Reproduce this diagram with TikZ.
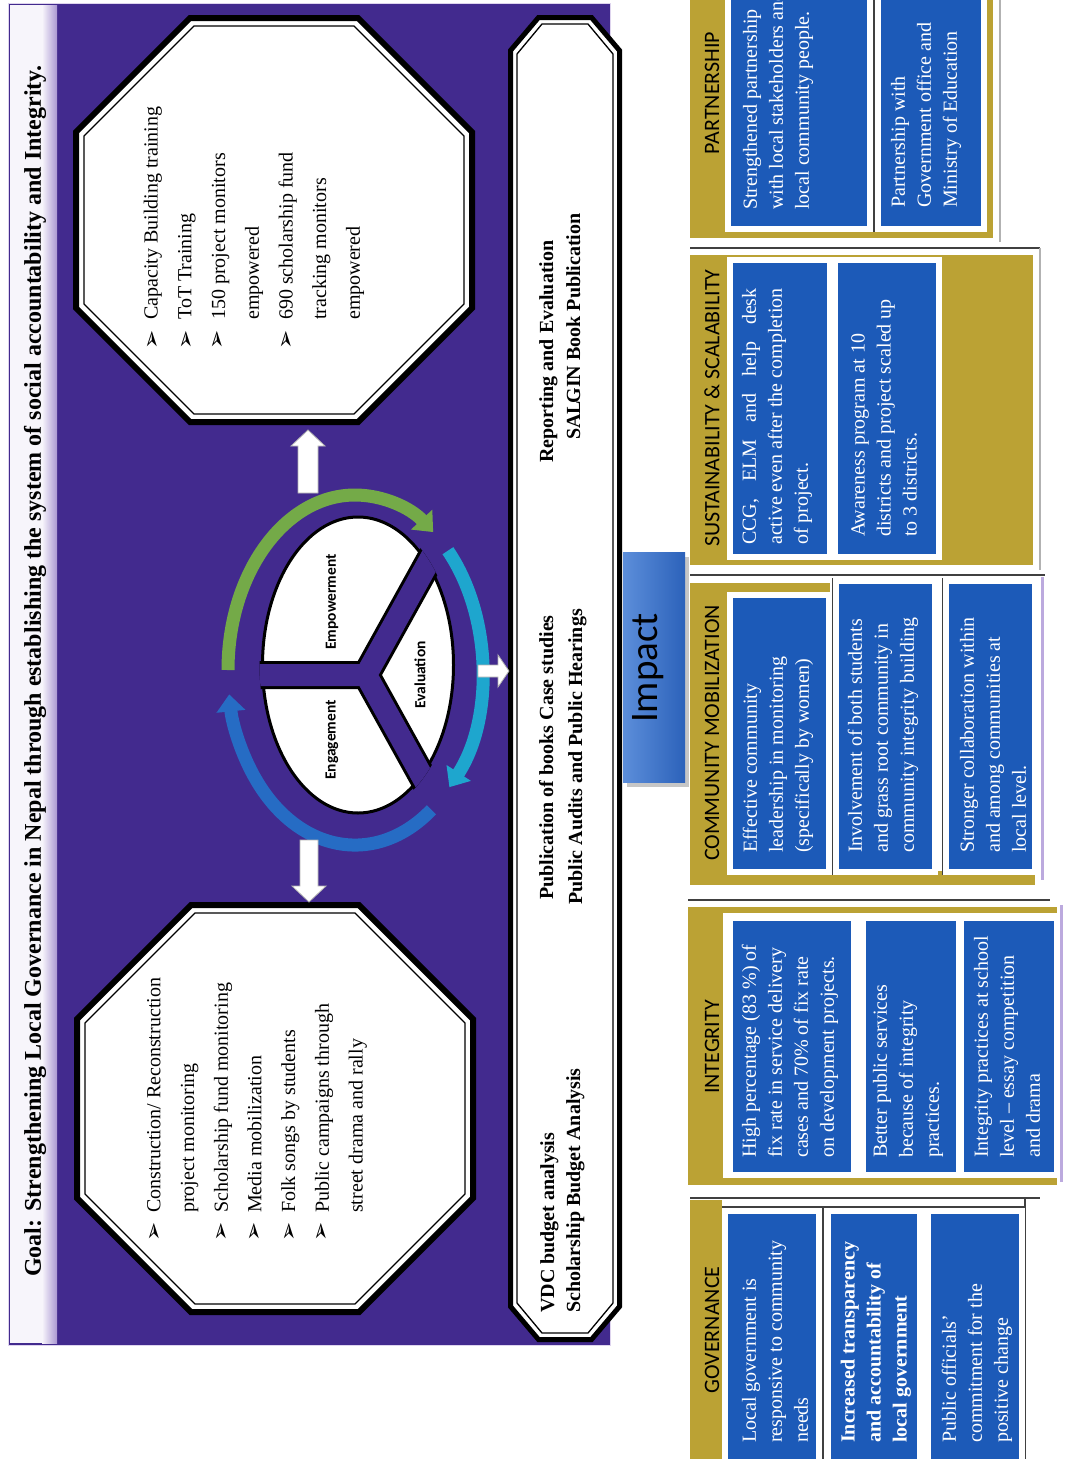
\documentclass[tikz,border=0pt]{standalone}
\usepackage{fontspec}
\setmainfont{Liberation Serif}
\newfontfamily\calib{Carlito}
\newfontfamily\djv{DejaVu Sans}
\usetikzlibrary{arrows.meta}
\definecolor{purp}{RGB}{66,42,142}
\definecolor{boxblue}{RGB}{28,90,184}
\definecolor{panelolive}{RGB}{187,162,52}
\definecolor{lav}{RGB}{188,170,222}
\definecolor{arcgreen}{RGB}{116,170,72}
\definecolor{arccyan}{RGB}{30,166,206}
\definecolor{arcblue}{RGB}{38,108,196}
\definecolor{implight}{RGB}{92,142,218}
\definecolor{impdark}{RGB}{44,98,186}
\newcommand\chpath[6]{(#1+#5,#2) -- (#3-#5,#2) -- (#3,#2+#6) -- (#3,#4-#6) -- (#3-#5,#4) -- (#1+#5,#4) -- (#1,#4-#6) -- (#1,#2+#6) -- cycle}
\newlength\justlen
\begin{document}
\begin{tikzpicture}[x=1pt,y=-1pt,
  rt/.style={rotate=90, inner sep=0pt, anchor=west},
  octtxt/.style={rt, align=left, font=\fontsize{20}{33.7}\selectfont},
  bodytxt/.style={rt, align=left, text=white, font=\fontsize{20}{26}\selectfont},
  lbtxt/.style={rt, text height=14pt, text depth=4pt, font=\bfseries\fontsize{20}{24}\selectfont},
  hdr/.style={rotate=90, inner sep=0pt, font=\calib\fontsize{22}{22}\selectfont},
  pietxt/.style={rotate=90, inner sep=0pt, font=\calib\bfseries\fontsize{15.5}{16}\selectfont},
  bul/.style={rotate=90, inner sep=0pt, font=\djv\fontsize{23}{23}\selectfont},
  bluebox/.style={fill=boxblue, draw=white, line width=6},
  darkl/.style={draw=gray!50!black, line width=1.2},
  warrow/.style={fill=white, draw=gray!60, line width=0.8},
  arcg/.style={arcgreen, line width=13, -{Triangle[length=17pt,width=28pt]}},
  arcc/.style={arccyan, line width=13, -{Triangle[length=17pt,width=28pt]}},
  arcb/.style={arcblue, line width=13, -{Triangle[length=17pt,width=28pt]}}
]
\fill[white] (0,0) rectangle (1065,1459);
\useasboundingbox (0,0) rectangle (1065,1459);

% purple panel and title strip
\fill[purp] (8,3) rectangle (610,1345);
\draw[lav!50!white, line width=1] (8,3) rectangle (610,1345);
\fill[white!88!lav] (10,5) rectangle (57,1343);
\shade[left color=white!88!lav, right color=lav!85!purp] (42,5) rectangle (57,1343);
\node[rt, font=\bfseries\fontsize{24}{28}\selectfont] (goal) at (35,1277) {Goal: Strengthening Local Governance in Nepal through establishing the system of social accountability and Integrity.};

% octagons
\draw[line width=6, fill=white] \chpath{76}{18}{472}{422}{114}{114};
\draw[line width=1.3] \chpath{84}{26}{464}{414}{110}{110};
\draw[line width=6, fill=white] \chpath{77}{905}{473}{1312}{114}{114};
\draw[line width=1.3] \chpath{85}{913}{465}{1304}{110}{110};

% long box
\draw[line width=5, fill=white] \chpath{510.5}{17.5}{619.5}{1339.5}{28}{33};
\draw[line width=1.3] \chpath{517}{24}{613}{1333}{25}{30};

% pie
\fill[white] (358,665) ellipse[x radius=95.5, y radius=148];
\draw[line width=3] (358,665) ellipse[x radius=95.5, y radius=148];
\begin{scope}
  \clip (358,665) ellipse[x radius=98.5, y radius=151];
  \draw[black, line width=28, line cap=round] (366,675) -- (150,675) (366,675) -- (463,500) (366,675) -- (463,850);
  \draw[purp, line width=22, line cap=round] (366,675) -- (150,675) (366,675) -- (463,500) (366,675) -- (463,850);
\end{scope}
\node[pietxt] (emp) at (332,602) {Empowerment};
\node[pietxt] (eng) at (332,740) {Engagement};
\node[pietxt] (eva) at (420,675) {Evaluation};

% cycle arcs
\draw[arcg] (228,670) arc[start angle=180, end angle=308, x radius=127, y radius=175];
\draw[arcc] (447.9,550.7) arc[start angle=317, end angle=402, x radius=127, y radius=175];
\draw[arcb] (431.4,809.8) arc[start angle=53, end angle=172, x radius=127, y radius=175];

% white block arrows
\draw[warrow] (298,493) -- (298,446) -- (291,446) -- (308,430) -- (325,446) -- (318,446) -- (318,493) -- cycle;
\draw[warrow] (300,840) -- (300,886) -- (292,886) -- (309,902) -- (326,886) -- (318,886) -- (318,840) -- cycle;
\draw[warrow] (478,665) -- (498,665) -- (498,655) -- (509,671) -- (498,687) -- (498,677) -- (478,677) -- cycle;

% octagon texts
\node[octtxt] (octA) at (254,320) {Capacity Building training\\ToT Training\\150 project monitors\\empowered\\690 scholarship fund\\tracking monitors\\empowered};
\foreach \bx [count=\i] in {153,187,218,287} {\node[bul] (bA\i) at (\bx,340) {➢};}
\node[octtxt] (octB) at (257,1213) {Construction/ Reconstruction\\project monitoring\\Scholarship fund monitoring\\Media mobilization\\Folk songs by students\\Public campaigns through\\street drama and rally};
\foreach \bx [count=\i] in {155,222,255,290,322} {\node[bul] (bB\i) at (\bx,1232) {➢};}

% long box texts
\node[lbtxt] (vdc) at (549,1313) {VDC budget analysis};
\node[lbtxt] (sba) at (575,1313) {Scholarship Budget Analysis};
\node[lbtxt] (pub) at (548,900) {Publication of books Case studies};
\node[lbtxt] (pah) at (577,905) {Public Audits and Public Hearings};
\node[lbtxt] (rep) at (548,463) {Reporting and Evaluation};
\node[lbtxt] (sal) at (575,440) {SAL\kern-2.5pt GIN Book Publication};

% Impact
\fill[gray!45] (627,557) rectangle (689,787);
\shade[left color=implight, right color=impdark] (623,552) rectangle (685,782);
\node[rotate=90, inner sep=0pt, font=\calib\fontsize{39}{39}\selectfont] (impact) at (648,668) {Impact};

% PARTNERSHIP
\fill[panelolive] (690,-5) rectangle (993,238);
\draw[darkl] (874,-5) -- (874,232);
\draw[draw=gray!60, line width=1.5] (1000,-5) -- (1000,242);
\draw[bluebox] (728,-5) rectangle (870,229);
\draw[bluebox] (878,-5) rectangle (984,229);

% SUSTAINABILITY
\draw[darkl] (690,248) -- (1040,248);
\fill[panelolive] (690,255) rectangle (1033,565);
\draw[draw=gray!60, line width=1.5] (1040,248) -- (1040,570);
\draw[darkl] (832.5,258) -- (832.5,560);
\draw[bluebox] (730,260) rectangle (830,557);
\draw[bluebox] (835,260) rectangle (939,557);

% COMMUNITY MOBILIZATION
\draw[darkl] (690,575) -- (1045,575);
\fill[panelolive] (690,583) rectangle (1035,885);
\fill[white] (830,577) rectangle (1038,871);
\draw[lav, line width=3] (1042,577) -- (1042,880);
\draw[darkl] (942.5,578) -- (942.5,875);
\draw[darkl] (832.5,578) -- (832.5,875);
\draw[bluebox] (730,595) rectangle (829,872);
\draw[bluebox] (836,581) rectangle (935,872);
\draw[bluebox] (946,581) rectangle (1035,872);

% INTEGRITY
\draw[darkl] (688,900) -- (1050,900);
\fill[panelolive] (688,907) rectangle (1057,1185);
\fill[white] (723,913) rectangle (1057,1178);
\draw[lav, line width=3] (1061,905) -- (1061,1182);
\draw[bluebox] (730,918) rectangle (854,1175);
\draw[bluebox] (863,918) rectangle (959,1175);
\draw[bluebox] (961,918) rectangle (1057,1175);

% GOVERNANCE
\draw[darkl] (690,1198) -- (1040,1198);
\fill[panelolive] (690,1200) rectangle (722,1465);
\draw[darkl] (722,1207) -- (1025,1207);
\draw[darkl] (823,1207) -- (823,1465);
\draw[darkl] (1025,1198) -- (1025,1465);
\draw[bluebox] (725,1211) rectangle (819,1470);
\draw[bluebox] (828,1211) rectangle (920,1470);
\draw[bluebox] (928,1211) rectangle (1022,1470);

% headers
\node[hdr] (hgov) at (712,1330) {GOVERNANCE};
\node[hdr] (hint) at (712,1047) {INTEGRITY};
\node[hdr] (hcom) at (712,733) {COMMUNITY MOBILIZATION};
\node[hdr] (hsus) at (712,408) {SUSTAINABILITY \& SCALABILITY};
\node[hdr] (hpar) at (712,93) {PARTNERSHIP};

% box texts
\node[bodytxt] (g1) at (775,1443) {Local government is\\responsive to community\\needs};
\node[bodytxt, font=\bfseries\fontsize{20}{26}\selectfont] (g2) at (876,1443) {Increased transparency\\and accountability of\\local government};
\node[bodytxt] (g3) at (977,1443) {Public officials’\\commitment for the\\positive change};
\node[bodytxt] (i1) at (790,1158) {High percentage (83 \%) of\\fix rate in service delivery\\cases and 70\% of fix rate\\on development projects.};
\node[bodytxt] (i2) at (908,1158) {Better public services\\because of integrity\\practices.};
\node[bodytxt] (i3) at (1007,1158) {Integrity practices at school\\level -- essay competition\\and drama};
\node[bodytxt] (c1) at (778,853) {Effective community\\leadership in monitoring\\(specifically by women)};
\node[bodytxt] (c2) at (883,853) {Involvement of both students\\and grass root community in\\community integrity building};
\node[bodytxt] (c3) at (993,853) {Stronger collaboration within\\and among communities at\\local level.};
\node[bodytxt] (s1) at (777,545) {\settowidth{\justlen}{active even after the completion}\makebox[\justlen][s]{CCG, ELM and help desk}\\active even after the completion\\of project.};
\node[bodytxt] (s2) at (884,537) {Awareness program at 10\\districts and project scaled up\\to 3 districts.};
\node[bodytxt] (p1) at (778,210) {Strengthened partnership\\with local stakeholders and\\local community people.};
\node[bodytxt] (p2) at (926,208) {Partnership with\\Government office and\\Ministry of Education};
\end{tikzpicture}
\end{document}
